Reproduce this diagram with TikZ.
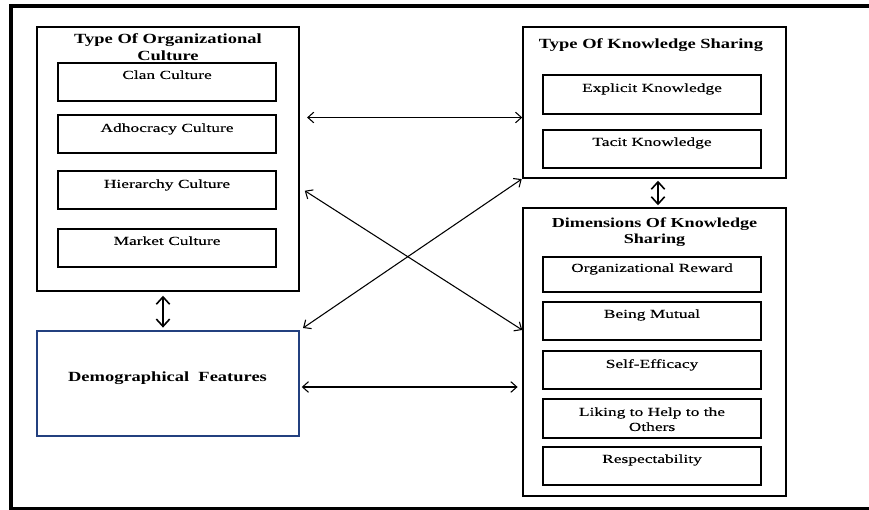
\documentclass[tikz,border=0pt]{standalone}
\usepackage{fontspec}
\setmainfont{Liberation Serif}[FakeStretch=1.42,FakeBold=0.2]
\newfontfamily\boldf{Liberation Serif}[FakeStretch=1.32]
\usetikzlibrary{arrows.meta}
\definecolor{demoblue}{HTML}{23407F}
\begin{document}
\begin{tikzpicture}[x=0.75pt,y=-0.75pt,
  bigbox/.style={draw, line width=1.1pt, inner sep=0pt},
  sub/.style={draw, line width=1.4pt, inner xsep=0pt, inner ysep=0pt,
    minimum width=163.5pt, anchor=north, font=\fontsize{9.2}{11.25}\selectfont},
  ttl/.style={inner sep=0pt, anchor=base},
  thin/.style={line width=0.8pt, {Straight Barb[length=4.5pt,width=8pt]}-{Straight Barb[length=4.5pt,width=8pt]}},
  thick/.style={line width=1.2pt, {Straight Barb[length=5.5pt,width=10pt]}-{Straight Barb[length=5.5pt,width=10pt]}}
]
\useasboundingbox (0,0) rectangle (869,510);
\draw[line width=3pt] (869,6.5) -- (11,6.5) -- (11,508.5) -- (869,508.5);

% big boxes
\node[bigbox, minimum width=196.5pt, minimum height=198pt] (A) at (168,159) {};
\node[bigbox, minimum width=197.25pt, minimum height=113.25pt] (B) at (654.5,102.5) {};
\node[bigbox, minimum width=197.25pt, minimum height=216pt] (C) at (654.5,352) {};
\node[bigbox, draw=demoblue, minimum width=196.5pt, minimum height=78.75pt] (D) at (168,383.5) {};

% titles
\node[ttl, font=\boldf\bfseries\fontsize{10.5}{12.75}\selectfont] (At) at (168,44)
  {\begin{tabular}[t]{@{}c@{}}Type Of Organizational\\Culture\end{tabular}};
\node[ttl, font=\boldf\bfseries\fontsize{10.5}{12.75}\selectfont] (Bt) at (651,49) {Type Of Knowledge Sharing};
\node[ttl, font=\boldf\bfseries\fontsize{10.3}{11.6}\selectfont] (Ct) at (654.5,228)
  {\begin{tabular}[t]{@{}c@{}}Dimensions Of Knowledge\\Sharing\end{tabular}};
\node[ttl, font=\boldf\bfseries\fontsize{10.5}{12.75}\selectfont] (Dt) at (167.5,381) {Demographical\ \ Features};

% sub boxes of A
\node[sub, text height=12pt, text depth=16.5pt] (a1) at (167,62) {Clan Culture};
\node[sub, text height=12.75pt, text depth=15.75pt] (a2) at (167,114) {Adhocracy Culture};
\node[sub, text height=12.75pt, text depth=15.75pt] (a3) at (167,170) {Hierarchy Culture};
\node[sub, text height=12pt, text depth=16.5pt] (a4) at (167,228) {Market Culture};

% sub boxes of B
\node[sub, text height=12.75pt, text depth=16.5pt] (b1) at (652,74) {Explicit Knowledge};
\node[sub, text height=12pt, text depth=16.5pt] (b2) at (652,129) {Tacit Knowledge};

% sub boxes of C
\node[sub, text height=11.25pt, text depth=15pt] (c1) at (652,256) {Organizational Reward};
\node[sub, text height=12pt, text depth=16.5pt] (c2) at (652,301) {Being Mutual};
\node[sub, text height=12.75pt, text depth=15.75pt] (c3) at (652,350) {Self-Efficacy};
\node[sub, text height=24pt, text depth=5.25pt] (c4) at (652,398)
  {\begin{tabular}[b]{@{}c@{}}Liking to Help to the\\Others\end{tabular}};
\node[sub, text height=12pt, text depth=16.5pt] (c5) at (652,446) {Respectability};

% helper coordinates
\coordinate (yab) at (0,117.5);
\coordinate (yac) at (0,187.5);
\coordinate (ydc) at (0,387);
\coordinate (xad) at (163,0);
\coordinate (xbc) at (658,0);

% connectors
\draw[thin, shorten <=5.5pt] (A.east |- yab) -- (B.west |- yab);
\draw[thin, shorten <=4.5pt] (A.east |- yac) -- (C.west |- 0,330);
\draw[thin, shorten <=3pt, shorten >=0.5pt] (D.north east) -- (B.south west);
\draw[thin, shorten <=1.5pt, shorten >=3.5pt] (D.east |- ydc) -- (C.west |- ydc);
\draw[thick, shorten <=3pt, shorten >=2pt] (A.south -| xad) -- (D.north -| xad);
\draw[thick, shorten <=1.5pt, shorten >=1.5pt] (B.south -| xbc) -- (C.north -| xbc);
\end{tikzpicture}
\end{document}
